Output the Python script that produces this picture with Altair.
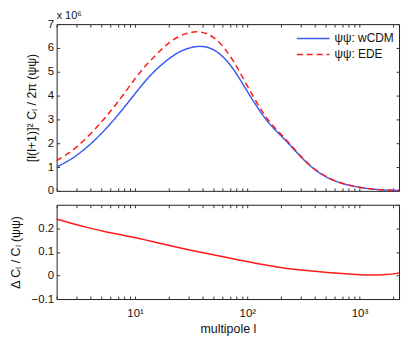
import altair as alt
import pandas as pd

# multipole values and spectra (in units of 1e6)
l_wcdm = [2, 2.5, 3, 4, 5, 6, 7, 8.5, 10, 12, 14, 17, 20, 24, 28, 33, 39, 46, 55, 65, 77, 90,
          108, 130, 150, 180, 215, 250, 290, 340, 400, 480, 570, 680, 800, 950, 1120, 1330,
          1580, 1900, 2250]
v_wcdm = [1.00, 1.24, 1.47, 1.95, 2.40, 2.80, 3.17, 3.66, 4.08, 4.55, 4.90, 5.28, 5.55, 5.80,
          5.95, 6.05, 6.08, 6.02, 5.82, 5.50, 5.05, 4.53, 3.92, 3.33, 2.93, 2.52, 2.17, 1.83,
          1.50, 1.17, 0.88, 0.64, 0.46, 0.33, 0.24, 0.165, 0.11, 0.07, 0.04, 0.025, 0.015]

l_ede = [2, 2.5, 3, 4, 5, 6, 7, 8.5, 10, 12, 14, 17, 20, 24, 28, 33, 39, 46, 55, 65, 77, 90,
         108, 130, 150, 180, 215, 250, 290, 340, 400, 480, 570, 680, 800, 950, 1120, 1330,
         1580, 1900, 2250]
v_ede = [1.27, 1.55, 1.82, 2.38, 2.88, 3.32, 3.72, 4.25, 4.72, 5.18, 5.52, 5.92, 6.22, 6.47,
         6.60, 6.68, 6.68, 6.57, 6.30, 5.90, 5.38, 4.80, 4.12, 3.47, 3.02, 2.59, 2.22, 1.87,
         1.53, 1.19, 0.89, 0.65, 0.465, 0.333, 0.242, 0.166, 0.11, 0.07, 0.04, 0.025, 0.015]

l_diff = [2, 3, 3.8, 5.5, 7.5, 10, 14.7, 29, 68, 133, 262, 515, 1014, 1245, 1746, 2250]
v_diff = [0.239, 0.215, 0.203, 0.185, 0.172, 0.161, 0.142, 0.110, 0.075, 0.047, 0.024, 0.0125,
          0.003, 0.001, 0.003, 0.010]

series_names = ["ψψ: wCDM", "ψψ: EDE"]
series_colors = ["#3a5cf0", "#ff1a1a"]

x_ticks = [2, 3, 4, 5, 6, 7, 8, 9, 10, 20, 30, 40, 50, 60, 70, 80, 90,
           100, 200, 300, 400, 500, 600, 700, 800, 900, 1000, 2000]
y_top_ticks = [0, 1, 2, 3, 4, 5, 6, 7]
y_bot_ticks = [-0.1, 0, 0.1, 0.2]

df_top = pd.concat([
    pd.DataFrame({"l": l_wcdm, "val": v_wcdm, "series": series_names[0]}),
    pd.DataFrame({"l": l_ede, "val": v_ede, "series": series_names[1]}),
])
df_bot = pd.DataFrame({"l": l_diff, "d": v_diff})

FONT = "Liberation Sans"
FS = 11.5
TFS = 12.5
W = 345
INTERP = "basis"

xscale = alt.Scale(type="log", domain=[2, 2250], nice=False)
ytop_scale = alt.Scale(domain=[0, 7], nice=False)
ybot_scale = alt.Scale(domain=[-0.1, 0.3], nice=False)

def tick_axis(orient, values, **kw):
    base = dict(orient=orient, values=values, domain=False, tickSize=3, offset=-3,
                grid=False, tickColor="#333333")
    base.update(kw)
    if "labels" not in kw:
        base["labels"] = False
    if "title" not in kw:
        base["title"] = None
    return alt.Axis(**base)

label_expr = ("datum.value == 10 ? '10¹' : datum.value == 100 ? '10²' : "
              "datum.value == 1000 ? '10³' : ''")

# ---- top panel
legend = alt.Legend(orient="none", legendX=252, legendY=8, title=None,
                    symbolType="M-3,0H3", symbolSize=121, symbolStrokeWidth=1.5,
                    labelFontSize=12, labelFont=FONT, labelOffset=15, rowPadding=3)

lines_top = alt.Chart(df_top).mark_line(strokeWidth=1.5, interpolate=INTERP).encode(
    x=alt.X("l:Q", scale=xscale, axis=tick_axis("bottom", x_ticks)),
    y=alt.Y("val:Q", scale=ytop_scale,
            axis=tick_axis("left", y_top_ticks, labels=True, labelPadding=3,
                           title="[l(l+1)]² Cₗ / 2π  (ψψ)", titlePadding=9)),
    color=alt.Color("series:N", scale=alt.Scale(domain=series_names, range=series_colors),
                    sort=series_names, legend=legend),
    strokeDash=alt.StrokeDash("series:N", scale=alt.Scale(domain=series_names, range=[[1, 0], [6, 4]]),
                              sort=series_names, legend=legend),
)
mirror_top = alt.Chart(df_top).mark_line(opacity=0).encode(
    x=alt.X("l:Q", scale=xscale, axis=tick_axis("top", x_ticks)),
    y=alt.Y("val:Q", scale=ytop_scale, axis=tick_axis("right", y_top_ticks)),
    detail="series:N",
)
exp_label = alt.Chart(pd.DataFrame({"t": ["x 10⁶"]})).mark_text(
    align="left", baseline="alphabetic", fontSize=11, font=FONT, color="#111111"
).encode(text="t:N", x=alt.value(0), y=alt.value(-5))

top = alt.layer(lines_top, mirror_top, exp_label).resolve_axis(
    x="independent", y="independent").properties(width=W, height=168)

# ---- bottom panel
line_bot = alt.Chart(df_bot).mark_line(strokeWidth=1.5, color="#ff1a1a", interpolate=INTERP).encode(
    x=alt.X("l:Q", scale=xscale,
            axis=tick_axis("bottom", x_ticks, labels=True, labelExpr=label_expr,
                           labelPadding=9, title="multipole  l", titlePadding=3)),
    y=alt.Y("d:Q", scale=ybot_scale,
            axis=tick_axis("left", y_bot_ticks, labels=True, labelPadding=3,
                           labelExpr="datum.value == 0 ? '0' : format(datum.value, '.1f')",
                           title="Δ Cₗ / Cₗ  (ψψ)", titlePadding=9)),
)
mirror_bot = alt.Chart(df_bot).mark_line(opacity=0).encode(
    x=alt.X("l:Q", scale=xscale, axis=tick_axis("top", x_ticks)),
    y=alt.Y("d:Q", scale=ybot_scale, axis=tick_axis("right", y_bot_ticks + [0.3])),
)
bottom = alt.layer(line_bot, mirror_bot).resolve_axis(
    x="independent", y="independent").properties(width=W, height=95)

chart = alt.vconcat(top, bottom, spacing=7).properties(
    padding={"left": 0, "top": 0, "right": 0, "bottom": 0}, background="white"
).configure_view(stroke="#222222", strokeWidth=1).configure_axis(
    labelFont=FONT, titleFont=FONT, labelFontSize=FS, titleFontSize=TFS,
    titleFontWeight="normal", labelColor="#111111", titleColor="#111111",
    labelOverlap=False
).configure_legend(labelColor="#111111")

chart.save("out.html", embed_options={"renderer": "svg", "actions": False})
